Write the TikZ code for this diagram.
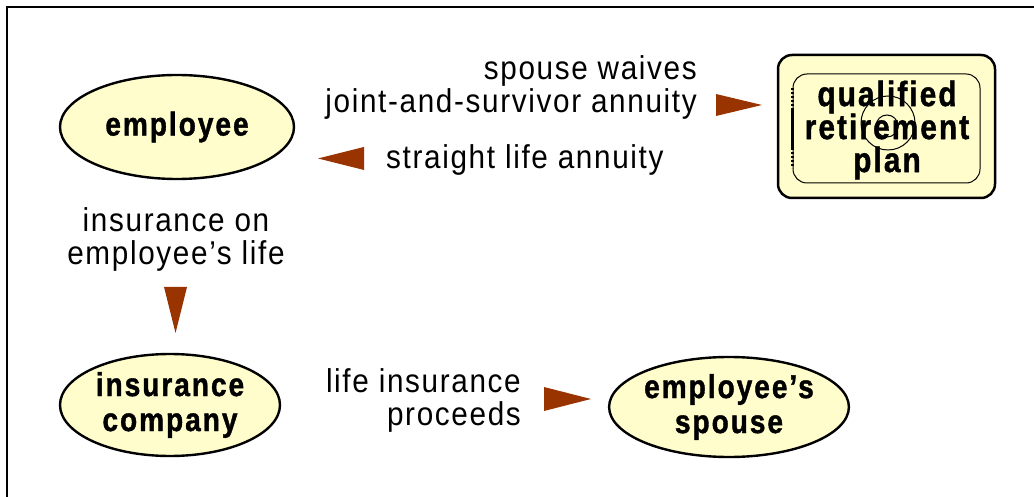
\documentclass[tikz,border=0pt]{standalone}
\usepackage{fontspec}
\setmainfont{Liberation Sans}
\newfontfamily\lab{Liberation Sans}[FakeStretch=0.9,LetterSpace=5]
\newfontfamily\labb{Liberation Sans Bold}[FakeStretch=0.85,LetterSpace=6,FakeBold=1.2]
\usetikzlibrary{shapes.geometric}
\definecolor{pale}{RGB}{255,253,204}
\definecolor{tipc}{RGB}{153,51,0}
\tikzset{
  oval/.style={ellipse, draw=black, line width=2.4pt, fill=pale, inner sep=0pt, align=center,
    font=\labb\fontsize{33}{35}\selectfont},
  lbl/.style={font=\lab\fontsize{33}{33}\selectfont, inner sep=0pt},
  tri/.style={fill=tipc, draw=none},
  boxtxt/.style={font=\labb\fontsize{35}{33}\selectfont, inner sep=0pt, align=center}
}
\begin{document}
\begin{tikzpicture}[x=1pt,y=-1pt]
\useasboundingbox (0,0) rectangle (1034,497);
\draw[line width=2.5pt] (7,505) -- (7,7) -- (1040,7);

% ovals
\node[oval, minimum width=234, minimum height=104] (emp) at (177,127) {employee};
\node[oval, minimum width=220, minimum height=102] (ins) at (170,405) {insurance\\company};
\node[oval, minimum width=234, minimum height=100] (sp) at (729,407) {employee’s\\spouse};

% qualified retirement plan box
\draw[line width=2.5pt, fill=pale, rounded corners=14pt] (778,55) rectangle (995,198);
\draw[line width=1pt, rounded corners=14pt] (793,74) rectangle (980,183);
\draw[line width=1pt] (888,123) circle (27);
\draw[line width=1pt] (887,126) circle (11);
\draw[line width=3pt, dash pattern=on 2pt off 2pt] (792,88) -- (792,106);
\draw[line width=3pt] (792,108) -- (792,150);
\draw[line width=3pt, dash pattern=on 2pt off 2pt] (792,152) -- (792,168);
\node[boxtxt] (qrp) at (887,130) {qualified\\retirement\\plan};

% labels
\node[lbl, anchor=east, align=right] (l1) at (697,87) {spouse waives\\joint-and-survivor annuity};
\node[lbl, anchor=west] (l2) at (386,160) {straight life annuity};
\node[lbl, align=center] (l3) at (176,239) {insurance on\\employee’s life};
\node[lbl, anchor=east, align=right] (l4) at (521,400) {life insurance\\proceeds};

% arrowheads
\fill[tri] (716,94) -- (762,105) -- (716,116) -- cycle;
\fill[tri] (364,147) -- (318,158.5) -- (364,170) -- cycle;
\fill[tri] (164,287) -- (175.5,333) -- (187,287) -- cycle;
\fill[tri] (544,387) -- (591,399) -- (544,411) -- cycle;
\end{tikzpicture}
\end{document}
